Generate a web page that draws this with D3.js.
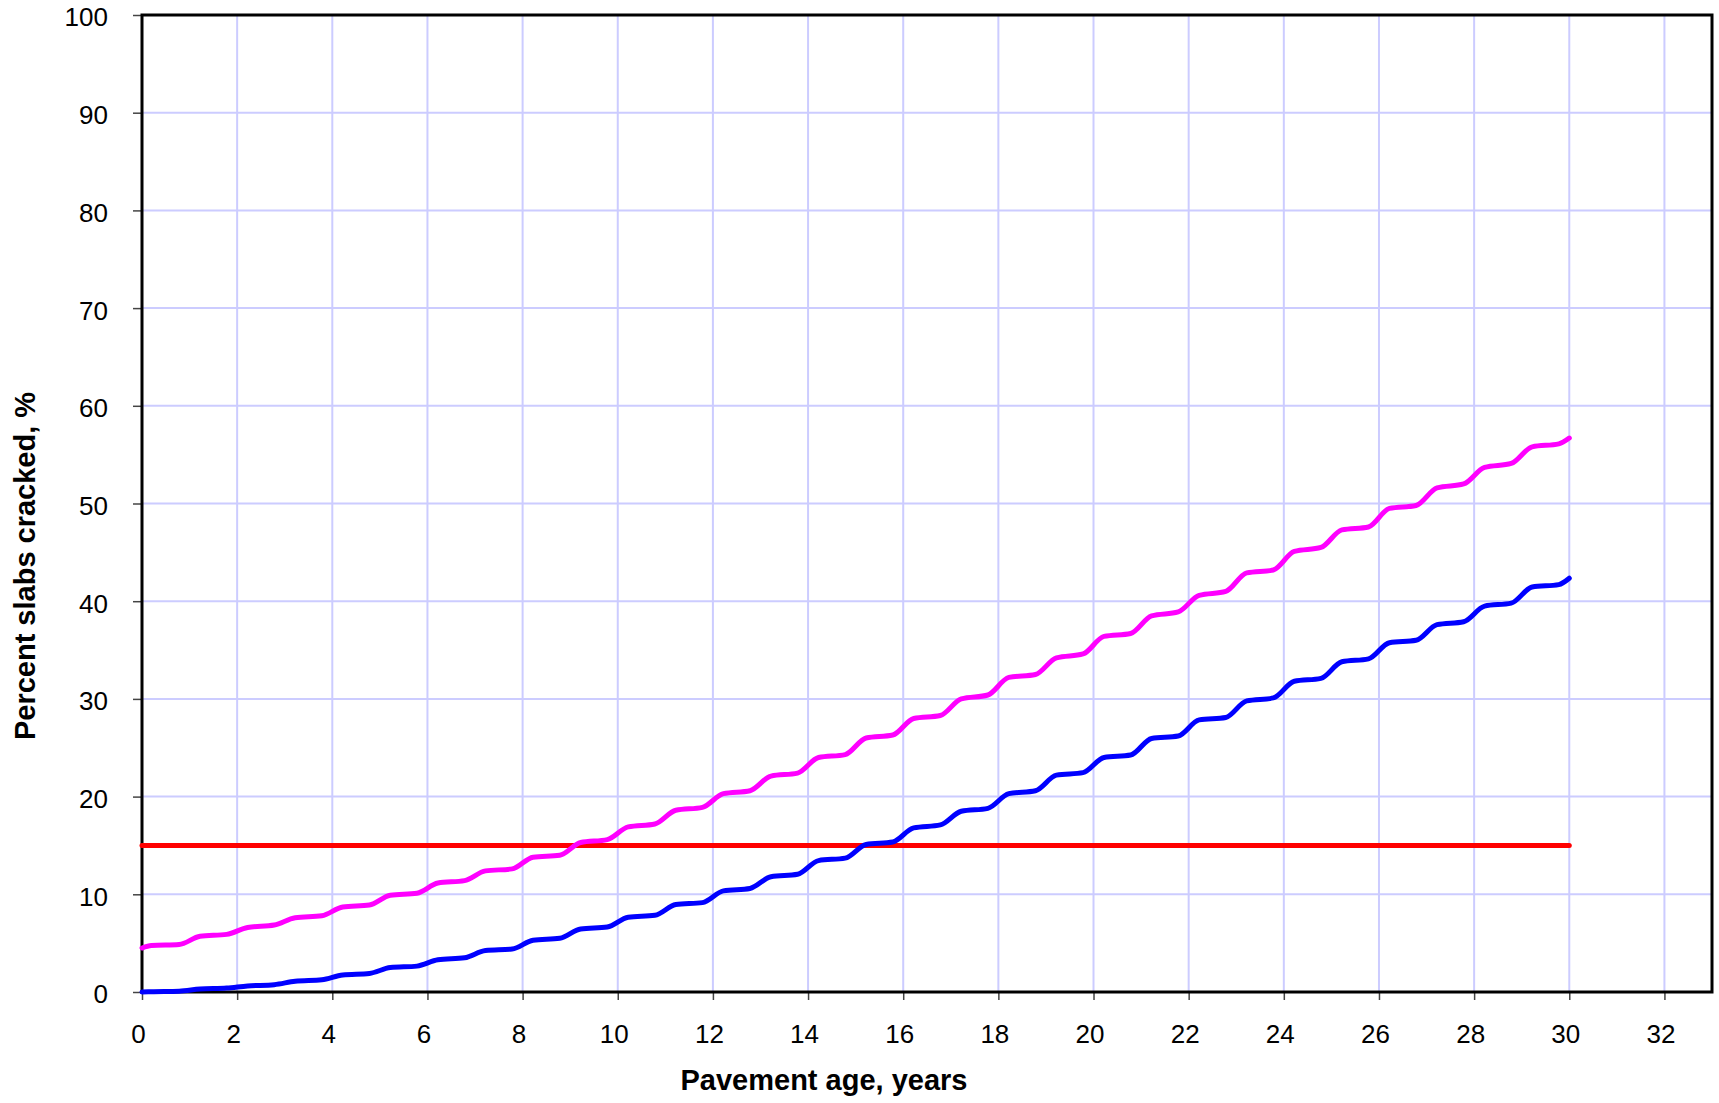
<!DOCTYPE html>
<html>
<head>
<meta charset="utf-8">
<script src="https://cdn.jsdelivr.net/npm/d3@7"></script>
<style>
body { margin: 0; background: #fff; }
text { font-family: Arial, "Liberation Sans", sans-serif; }
</style>
</head>
<body>
<svg width="1719" height="1103"></svg>
<script>
// pavement age, years
const ages = [0, 0.2, 0.78,
    1.22, 1.78, 2.22, 2.78, 3.22, 3.78, 4.22, 4.78, 5.22, 5.78,
    6.22, 6.78, 7.22, 7.78, 8.22, 8.78, 9.22, 9.78, 10.22, 10.78,
    11.22, 11.78, 12.22, 12.78, 13.22, 13.78, 14.22, 14.78, 15.22, 15.78,
    16.22, 16.78, 17.22, 17.78, 18.22, 18.78, 19.22, 19.78, 20.22, 20.78,
    21.22, 21.78, 22.22, 22.78, 23.22, 23.78, 24.22, 24.78, 25.22, 25.78,
    26.22, 26.78, 27.22, 27.78, 28.22, 28.78, 29.22, 29.78, 30];

// magenta curve
const crackingReliability = [4.5, 4.75, 4.85,
    5.7, 5.9, 6.6, 6.85, 7.6, 7.8, 8.7, 8.9, 9.9, 10.1,
    11.15, 11.4, 12.4, 12.6, 13.8, 14.0, 15.3, 15.6, 16.9, 17.2,
    18.6, 18.9, 20.3, 20.6, 22.1, 22.4, 24.0, 24.3, 26.0, 26.3,
    28.0, 28.3, 30.0, 30.4, 32.2, 32.5, 34.2, 34.6, 36.4, 36.7,
    38.5, 38.9, 40.6, 41.0, 42.9, 43.2, 45.1, 45.5, 47.3, 47.6,
    49.5, 49.8, 51.6, 52.0, 53.7, 54.1, 55.8, 56.1, 56.7];

// blue curve
const crackingPredicted = [0, 0.03, 0.08,
    0.3, 0.4, 0.62, 0.75, 1.1, 1.25, 1.75, 1.9, 2.5, 2.65,
    3.3, 3.5, 4.25, 4.4, 5.3, 5.5, 6.45, 6.65, 7.65, 7.85,
    8.95, 9.15, 10.35, 10.6, 11.8, 12.05, 13.45, 13.7, 15.1, 15.35,
    16.8, 17.1, 18.5, 18.8, 20.3, 20.6, 22.2, 22.45, 24.0, 24.25,
    25.95, 26.2, 27.85, 28.1, 29.8, 30.1, 31.8, 32.1, 33.8, 34.1,
    35.75, 36.0, 37.6, 37.9, 39.5, 39.8, 41.45, 41.7, 42.35];

// red limit line
const limitAges = [0, 30];
const limitValues = [15, 15];

const xTicks = [0, 2, 4, 6, 8, 10, 12, 14, 16, 18, 20, 22, 24, 26, 28, 30, 32];
const yTicks = [0, 10, 20, 30, 40, 50, 60, 70, 80, 90, 100];

const svg = d3.select("svg");
const plotLeft = 142, plotTop = 15, plotRight = 1712, plotBottom = 992;

const x = d3.scaleLinear().domain([0, 33]).range([plotLeft, plotRight]);
const y = d3.scaleLinear().domain([0, 100]).range([plotBottom, plotTop]);

// grid
svg.append('g')
    .selectAll('line')
    .data(xTicks.filter(d => d > 0))
    .enter().append('line')
    .attr('x1', d => x(d)).attr('x2', d => x(d))
    .attr('y1', plotTop).attr('y2', plotBottom)
    .attr('stroke', '#ccccff')
    .attr('stroke-width', 2);

svg.append('g')
    .selectAll('line')
    .data(yTicks.filter(d => d > 0 && d < 100))
    .enter().append('line')
    .attr('x1', plotLeft).attr('x2', plotRight)
    .attr('y1', d => y(d)).attr('y2', d => y(d))
    .attr('stroke', '#ccccff')
    .attr('stroke-width', 2);

// axes
const yAxis = svg.append('g')
    .attr('transform', 'translate(' + plotLeft + ',0)')
    .call(d3.axisLeft(y).tickValues(yTicks).tickSize(9).tickSizeOuter(0).tickPadding(25));

const xAxis = svg.append('g')
    .attr('transform', 'translate(0,' + plotBottom + ')')
    .call(d3.axisBottom(x).tickValues(xTicks).tickSize(8).tickSizeOuter(0).tickPadding(25));

[xAxis, yAxis].forEach(a => {
    a.select('.domain').remove();
    a.selectAll('line').attr('stroke', '#444').attr('stroke-width', 1.5);
    a.selectAll('text')
        .attr('font-size', '26px')
        .attr('font-family', 'Arial, "Liberation Sans", sans-serif')
        .attr('fill', '#000');
});
xAxis.selectAll('text').attr('dx', -4);
yAxis.selectAll('text').attr('dy', '0.42em');

// plot border
svg.append('rect')
    .attr('x', plotLeft).attr('y', plotTop)
    .attr('width', plotRight - plotLeft).attr('height', plotBottom - plotTop)
    .attr('fill', 'none')
    .attr('stroke', '#000')
    .attr('stroke-width', 3);

const line = d3.line()
    .x(d => x(d[0]))
    .y(d => y(d[1]))
    .curve(d3.curveMonotoneX);

const series = [
    {pts: limitAges.map((a, i) => [a, limitValues[i]]), color: '#ff0000'},
    {pts: ages.map((a, i) => [a, crackingReliability[i]]), color: '#ff00ff'},
    {pts: ages.map((a, i) => [a, crackingPredicted[i]]), color: '#0000ff'}
];

svg.append('g')
    .selectAll('path')
    .data(series)
    .enter().append('path')
    .attr('d', d => line(d.pts))
    .attr('fill', 'none')
    .attr('stroke', d => d.color)
    .attr('stroke-width', 5)
    .attr('stroke-linecap', 'round');

// axis titles
svg.append('text')
    .attr('x', 824)
    .attr('y', 1090)
    .attr('text-anchor', 'middle')
    .attr('font-size', '29px')
    .attr('font-weight', 'bold')
    .text('Pavement age, years');

svg.append('text')
    .attr('transform', 'translate(35,566) rotate(-90)')
    .attr('text-anchor', 'middle')
    .attr('font-size', '29px')
    .attr('font-weight', 'bold')
    .text('Percent slabs cracked, %');
</script>
</body>
</html>
